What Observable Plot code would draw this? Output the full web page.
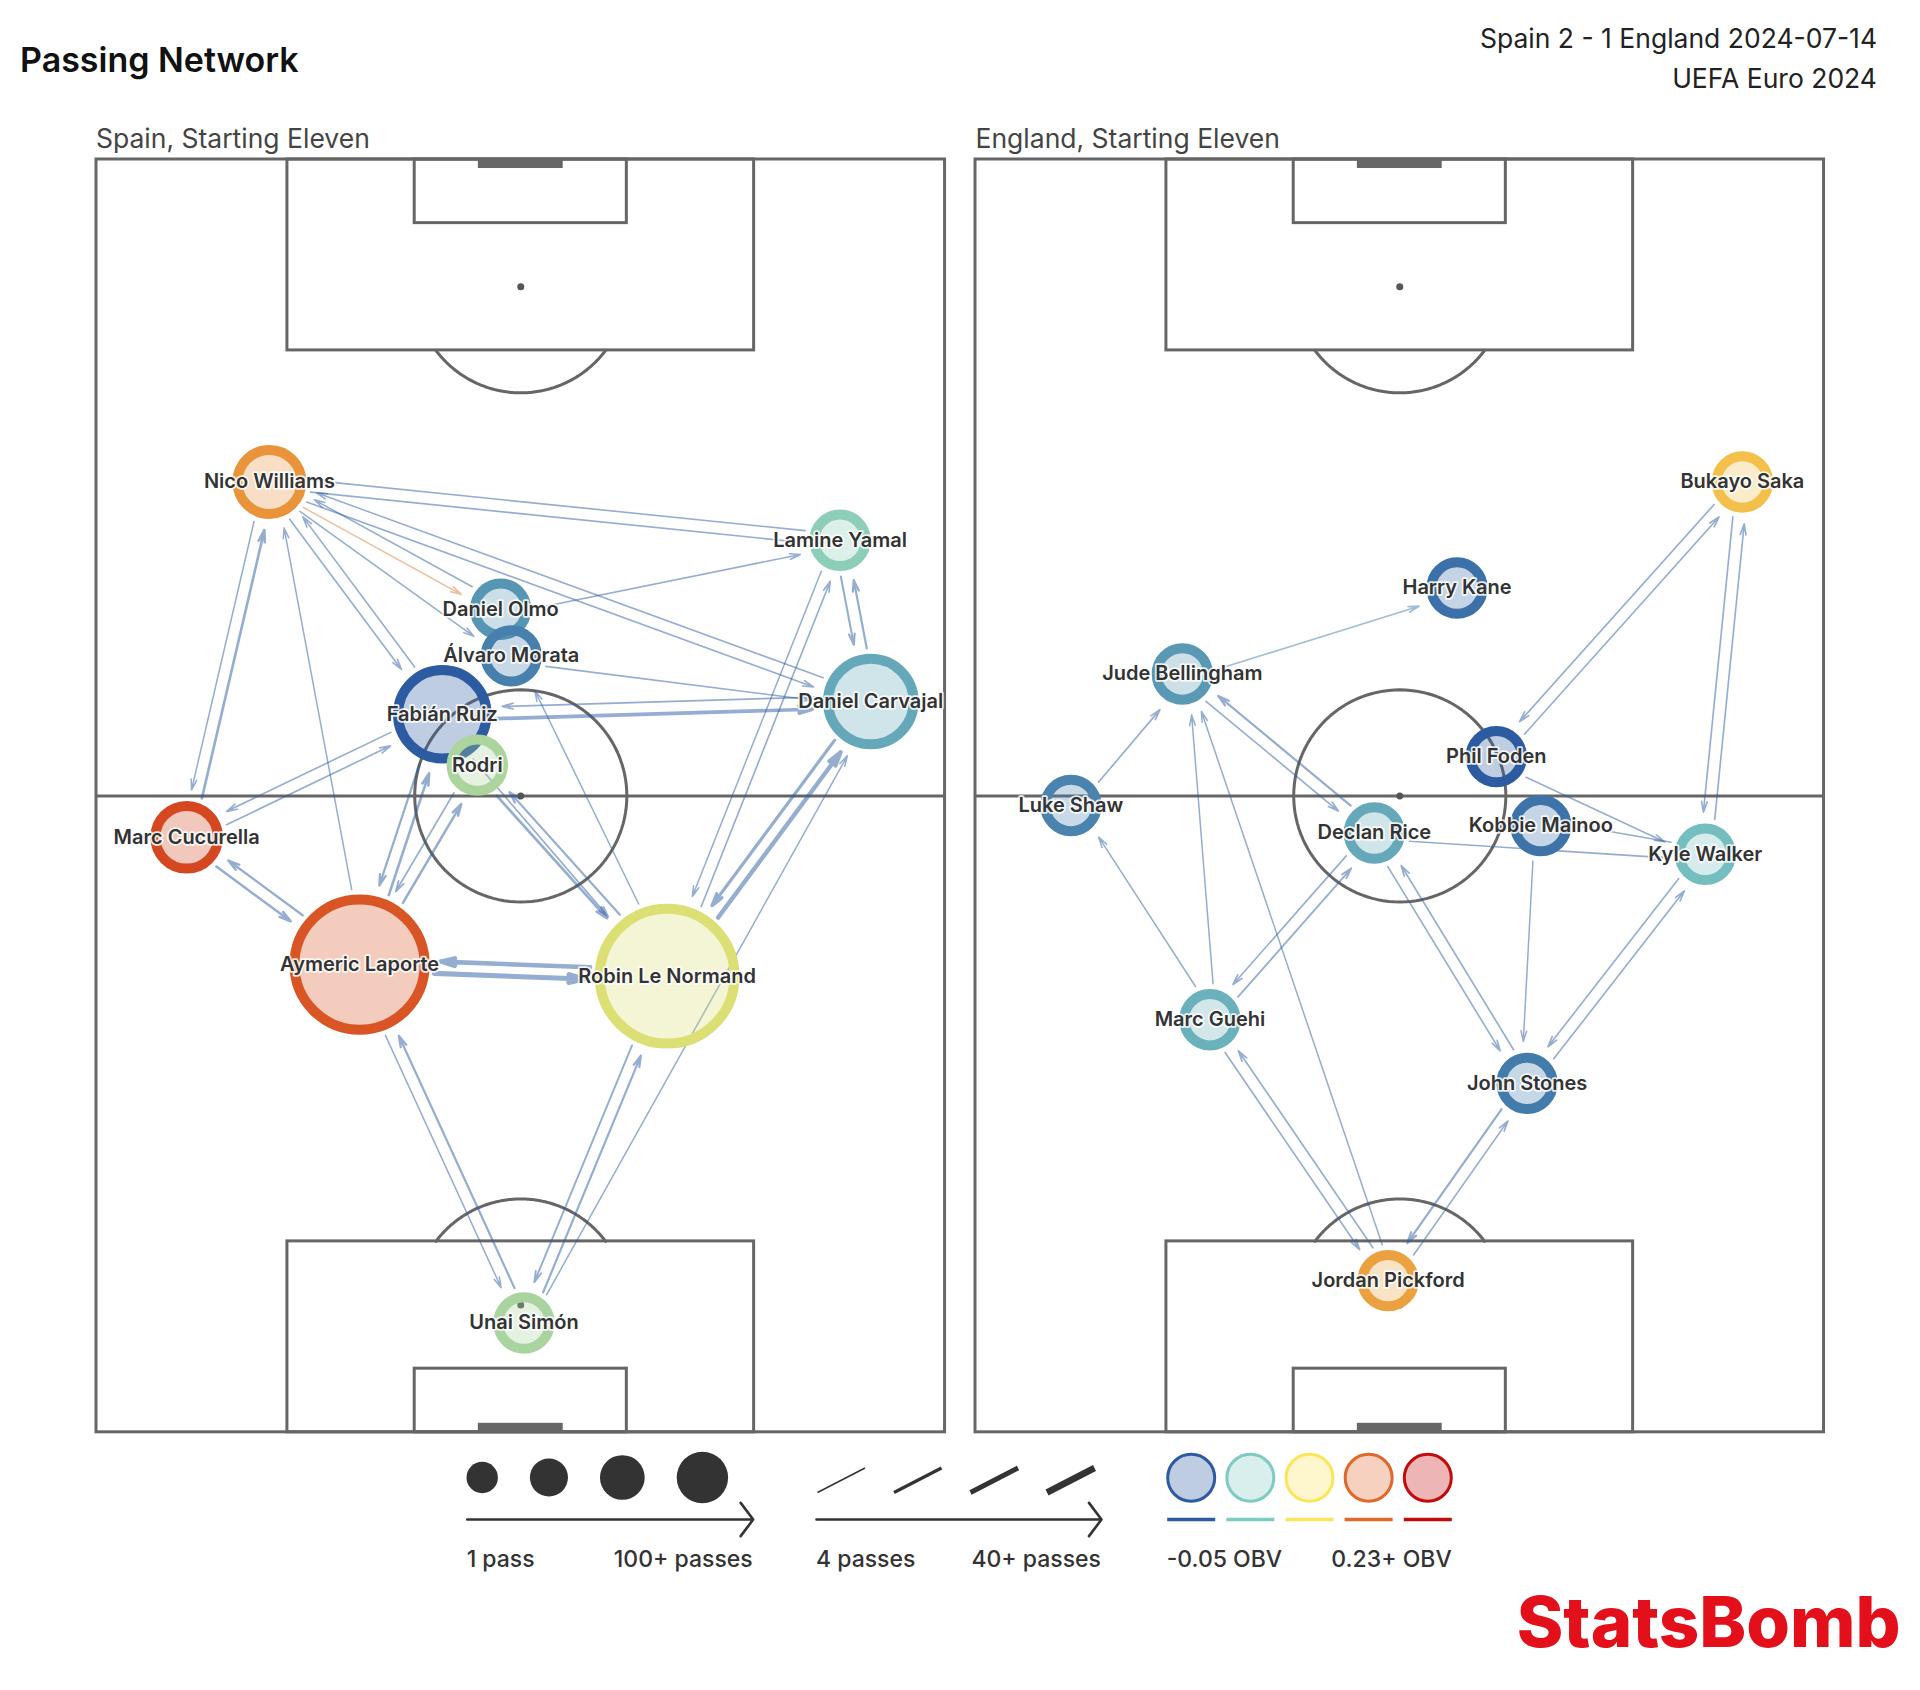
<!DOCTYPE html>
<html><head><meta charset="utf-8">
<script src="https://cdn.jsdelivr.net/npm/d3@7"></script>
<script src="https://cdn.jsdelivr.net/npm/@observablehq/plot@0.6"></script>
<style>
html,body{margin:0;padding:0;background:#fff;}
#page{position:relative;width:1920px;height:1690px;overflow:hidden;font-family:Inter,"Noto Sans",sans-serif;background:#fff;}
#page > svg, #page > div{position:absolute;}
</style></head>
<body><div id="page"></div>
<script>
// ================= DATA =================
const titleText = "Passing Network";
const matchText = "Spain 2 - 1 England 2024-07-14";
const compText = "UEFA Euro 2024";
const teamTitles = ["Spain, Starting Eleven", "England, Starting Eleven"];

// Spain nodes (across: 0-80 left→right, along: 0-120 own goal→attacking goal)
const spainPlayers = ["Nico Williams","Lamine Yamal","Daniel Olmo","Álvaro Morata","Fabián Ruiz","Rodri","Daniel Carvajal","Marc Cucurella","Aymeric Laporte","Robin Le Normand","Unai Simón"];
const spainAcross  = [16.3, 70.1, 38.1, 39.1, 32.6, 35.9, 73.0, 8.5, 24.8, 53.8, 40.3];
const spainAlong   = [89.6, 84.1, 77.6, 73.2, 67.7, 62.9, 68.9, 56.1, 44.1, 43.0, 10.3];
const spainPasses  = [25, 14, 13, 12, 47, 12, 44, 24, 100, 107, 15];
const spainObv     = [0.136, 0.028, -0.013, -0.027, -0.05, 0.045, -0.002, 0.185, 0.174, 0.072, 0.044];

// Spain edges
const spainFrom = ["Lamine Yamal","Nico Williams","Nico Williams","Daniel Carvajal","Nico Williams","Daniel Olmo","Daniel Olmo","Nico Williams","Fabián Ruiz","Nico Williams","Aymeric Laporte","Marc Cucurella","Nico Williams","Marc Cucurella","Fabián Ruiz","Marc Cucurella","Aymeric Laporte","Aymeric Laporte","Robin Le Normand","Fabián Ruiz","Aymeric Laporte","Aymeric Laporte","Rodri","Rodri","Robin Le Normand","Fabián Ruiz","Robin Le Normand","Robin Le Normand","Lamine Yamal","Robin Le Normand","Daniel Carvajal","Daniel Carvajal","Lamine Yamal","Fabián Ruiz","Daniel Carvajal","Álvaro Morata","Unai Simón","Aymeric Laporte","Unai Simón","Robin Le Normand","Unai Simón"];
const spainTo   = ["Nico Williams","Lamine Yamal","Daniel Carvajal","Nico Williams","Daniel Olmo","Nico Williams","Lamine Yamal","Fabián Ruiz","Nico Williams","Álvaro Morata","Nico Williams","Nico Williams","Marc Cucurella","Fabián Ruiz","Marc Cucurella","Aymeric Laporte","Marc Cucurella","Robin Le Normand","Aymeric Laporte","Aymeric Laporte","Fabián Ruiz","Rodri","Aymeric Laporte","Robin Le Normand","Rodri","Robin Le Normand","Álvaro Morata","Lamine Yamal","Robin Le Normand","Daniel Carvajal","Robin Le Normand","Lamine Yamal","Daniel Carvajal","Daniel Carvajal","Fabián Ruiz","Daniel Carvajal","Aymeric Laporte","Unai Simón","Robin Le Normand","Unai Simón","Daniel Carvajal"];
const spainEdgePasses = [5,5,5,4,4,4,5,5,5,4,4,12,4,5,5,11,10,30,26,9,12,11,6,12,9,5,4,5,4,24,16,9,8,20,6,5,9,4,9,7,4];
const spainEdgeObv    = [-0.05,-0.05,-0.05,-0.05,0.15,-0.05,-0.05,-0.05,-0.05,-0.05,-0.05,-0.05,-0.05,-0.05,-0.05,-0.05,-0.05,-0.05,-0.05,-0.05,-0.05,-0.05,-0.05,-0.05,-0.05,-0.05,-0.05,-0.05,-0.05,-0.05,-0.05,-0.05,-0.05,-0.05,-0.05,-0.05,-0.05,-0.05,-0.05,-0.05,-0.05];

// England nodes
const englandPlayers = ["Bukayo Saka","Harry Kane","Jude Bellingham","Phil Foden","Luke Shaw","Declan Rice","Kobbie Mainoo","Kyle Walker","Marc Guehi","John Stones","Jordan Pickford"];
const englandAcross  = [72.3, 45.4, 19.5, 49.1, 9.0, 37.6, 53.3, 68.8, 22.1, 52.0, 38.9];
const englandAlong   = [89.6, 79.6, 71.5, 63.7, 59.1, 56.5, 57.2, 54.5, 38.9, 32.9, 14.3];
const englandPasses  = [12, 8, 14, 11, 10, 15, 12, 13, 14, 16, 13];
const englandObv     = [0.111, -0.037, -0.011, -0.05, -0.025, -0.002, -0.035, 0.012, 0.004, -0.03, 0.1285];

// England edges
const englandFrom = ["Jude Bellingham","Bukayo Saka","Phil Foden","Bukayo Saka","Kyle Walker","Luke Shaw","Marc Guehi","Marc Guehi","Jude Bellingham","Declan Rice","Jordan Pickford","Declan Rice","Marc Guehi","Marc Guehi","Jordan Pickford","Declan Rice","John Stones","Declan Rice","Phil Foden","Kyle Walker","Kobbie Mainoo","Kyle Walker","John Stones","John Stones","Jordan Pickford"];
const englandTo   = ["Harry Kane","Phil Foden","Bukayo Saka","Kyle Walker","Bukayo Saka","Jude Bellingham","Luke Shaw","Jude Bellingham","Declan Rice","Jude Bellingham","Jude Bellingham","Marc Guehi","Declan Rice","Jordan Pickford","Marc Guehi","John Stones","Declan Rice","Kyle Walker","Kyle Walker","Kobbie Mainoo","John Stones","John Stones","Kyle Walker","Jordan Pickford","John Stones"];
const englandEdgePasses = [5,5,5,5,5,5,4,4,5,9,4,5,6,5,5,5,5,5,4,4,4,5,5,9,5];
const englandEdgeObv    = [-0.028,-0.05,-0.05,-0.05,-0.05,-0.05,-0.05,-0.05,-0.05,-0.05,-0.05,-0.05,-0.05,-0.05,-0.05,-0.05,-0.05,-0.05,-0.05,-0.05,-0.05,-0.05,-0.05,-0.05,-0.05];

// Legend
const sizeLegendPasses  = [1, 34, 67, 100];
const widthLegendPasses = [4, 16, 28, 40];
const obvLegendValues   = [-0.05, 0.02, 0.09, 0.16, 0.23];
const legendLabels = ["1 pass", "100+ passes", "4 passes", "40+ passes", "-0.05 OBV", "0.23+ OBV"];
const brandText = "StatsBomb";

// Colour scale (OBV)
const OBV_STOPS  = [-0.05, 0.02, 0.09, 0.16, 0.23];
const OBV_COLORS = ["#2c5ba2", "#7ecbc3", "#fbe659", "#e0682b", "#c20b0b"];

// Pitch markings (StatsBomb units)
const pitchRects = [
  {x1: 0, x2: 80, y1: 0, y2: 120},
  {x1: 18, x2: 62, y1: 0, y2: 18}, {x1: 18, x2: 62, y1: 102, y2: 120},
  {x1: 30, x2: 50, y1: 0, y2: 6}, {x1: 30, x2: 50, y1: 114, y2: 120}
];
const goalBars = [{x1: 36, x2: 44, y1: 0, y2: 0.85}, {x1: 36, x2: 44, y1: 119.15, y2: 120}];
const halfwayLine = [{x1: 0, x2: 80, y1: 60, y2: 60}];
const pitchSpots = [{x: 40, y: 12}, {x: 40, y: 60}, {x: 40, y: 108}];
const pitchArcs = [
  {id: "centre", cx: 40, cy: 60, r: 10, a0: 0, a1: 360},
  {id: "dBottom", cx: 40, cy: 12, r: 10, a0: 36.87, a1: 143.13},
  {id: "dTop", cx: 40, cy: 108, r: 10, a0: 216.87, a1: 323.13}
];

// ================= LAYOUT =================
const PX = 10.607;            // px per pitch unit
const MH = 14, MV = 30;       // plot margins
const pitchTop = 159.2;
const pitchLefts = [95.5, 974.7];
const RING = 10;
const R_DOMAIN = [16.4, 107], R_RANGE = [25.7, 67.4];
const rScale = d3.scaleSqrt().domain(R_DOMAIN).range(R_RANGE).clamp(true);
const wScale = d3.scaleLinear().domain([4, 40]).range([1.5, 6.5]).clamp(true);
const OFF = 6, GAP0 = 5, GAP1 = 11;
const FONT = "Inter, 'Noto Sans', sans-serif";
const colorScale = {type: "linear", domain: OBV_STOPS, range: OBV_COLORS, clamp: true};

const page = document.getElementById("page");

const arcPoints = pitchArcs.flatMap(a => d3.range(0, 121).map(k => {
  const t = (a.a0 + (a.a1 - a.a0) * k / 120) * Math.PI / 180;
  return {id: a.id, x: a.cx + a.r * Math.cos(t), y: a.cy + a.r * Math.sin(t)};
}));

function makePitch(players, across, along, passes, obv, eFrom, eTo, ePasses, eObv) {
  const nodes = players.map((name, i) => ({name, x: across[i], y: along[i], passes: passes[i], obv: obv[i]}));
  const byName = new Map(nodes.map(d => [d.name, d]));
  const outer = d => rScale(d.passes) + RING / 2;
  const edges = eFrom.map((f, i) => {
    const a = byName.get(f), b = byName.get(eTo[i]);
    const dx = b.x - a.x, dy = b.y - a.y, len = Math.hypot(dx, dy);
    const ux = dx / len, uy = dy / len;
    const px = uy * OFF / PX, py = -ux * OFF / PX;
    const s = (outer(a) + GAP0) / PX, e = (outer(b) + GAP1) / PX;
    return {x1: a.x + ux * s + px, y1: a.y + uy * s + py, x2: b.x - ux * e + px, y2: b.y - uy * e + py,
            w: wScale(ePasses[i]), obv: eObv[i]};
  });
  const lineStyle = {stroke: "#666", strokeWidth: 3};
  return Plot.plot({
    width: 80 * PX + 2 * MH, height: 120 * PX + 2 * MV,
    marginLeft: MH, marginRight: MH, marginTop: MV, marginBottom: MV,
    x: {domain: [0, 80], axis: null},
    y: {domain: [0, 120], axis: null},
    r: {type: "sqrt", domain: R_DOMAIN, range: R_RANGE, clamp: true},
    color: colorScale,
    style: {background: "transparent", overflow: "visible", fontFamily: FONT, maxWidth: "none"},
    marks: [
      Plot.rect(goalBars, {x1: "x1", x2: "x2", y1: "y1", y2: "y2", fill: "#666"}),
      Plot.rect(pitchRects, {x1: "x1", x2: "x2", y1: "y1", y2: "y2", fill: "none", ...lineStyle}),
      Plot.link(halfwayLine, {x1: "x1", x2: "x2", y1: "y1", y2: "y2", ...lineStyle}),
      Plot.line(arcPoints, {x: "x", y: "y", z: "id", ...lineStyle}),
      Plot.dot(pitchSpots, {x: "x", y: "y", r: 3.5, fill: "#555"}),
      ...edges.map(e => Plot.arrow([e], {
        x1: "x1", y1: "y1", x2: "x2", y2: "y2", stroke: "obv", strokeOpacity: 0.5,
        strokeWidth: e.w, headAngle: 30, headLength: 1.5 * (9 + 1.2 * e.w) / e.w
      })),
      Plot.dot(nodes, {x: "x", y: "y", r: "passes", fill: "obv", fillOpacity: 0.3, stroke: "obv", strokeWidth: RING}),
      Plot.text(nodes, {x: "x", y: "y", text: "name", fontSize: 20, fontWeight: 600, fill: "#333",
        stroke: "white", strokeWidth: 3.5, strokeOpacity: 0.85, fontFamily: FONT})
    ]
  });
}

const spain = makePitch(spainPlayers, spainAcross, spainAlong, spainPasses, spainObv, spainFrom, spainTo, spainEdgePasses, spainEdgeObv);
const england = makePitch(englandPlayers, englandAcross, englandAlong, englandPasses, englandObv, englandFrom, englandTo, englandEdgePasses, englandEdgeObv);
[spain, england].forEach((svg, i) => {
  svg.style.left = (pitchLefts[i] - MH) + "px";
  svg.style.top = (pitchTop - MV) + "px";
  page.appendChild(svg);
});

// ================= LEGEND (Plot) =================
const LEG_TOP = 1420;
const rLeg = d3.scaleLinear().domain([1, 100]).range([15.7, 25.7]);
let cx = 481.7;
const sizeItems = sizeLegendPasses.map((p, i) => {
  if (i > 0) cx += rLeg(sizeLegendPasses[i - 1]) + 32 + rLeg(p);
  return {x: cx, y: 57, passes: p};
});
const widthItems = widthLegendPasses.map((p, i) => ({x1: 817 + i * 76.5, y1: 72, x2: 864.5 + i * 76.5, y2: 47.5, w: wScale(p)}));
const obvItems = obvLegendValues.map((v, i) => ({x: 1190.7 + i * 59.15, y: 57.3, obv: v}));
const obvLines = obvItems.map(d => ({x1: d.x - 24, x2: d.x + 24, y1: 99, y2: 99, obv: d.obv}));
const legendArrows = [{x1: 466.7, x2: 752.7, y1: 99, y2: 99}, {x1: 816, x2: 1101, y1: 99, y2: 99}];

const legend = Plot.plot({
  width: 1920, height: 200, margin: 0,
  x: {domain: [0, 1920], range: [0, 1920], axis: null},
  y: {domain: [0, 200], range: [0, 200], axis: null},
  r: {type: "linear", domain: [1, 100], range: [15.7, 25.7]},
  color: colorScale,
  style: {background: "transparent", overflow: "visible", maxWidth: "none"},
  marks: [
    Plot.dot(sizeItems, {x: "x", y: "y", r: "passes", fill: "#333"}),
    Plot.arrow(legendArrows, {x1: "x1", x2: "x2", y1: "y1", y2: "y2", stroke: "#333", strokeWidth: 2.6, headAngle: 106, headLength: 12}),
    ...widthItems.map(d => Plot.link([d], {x1: "x1", x2: "x2", y1: "y1", y2: "y2", stroke: "#333", strokeWidth: d.w, strokeLinecap: "butt"})),
    Plot.dot(obvItems, {x: "x", y: "y", r: 23.5, fill: "obv", fillOpacity: 0.3, stroke: "obv", strokeWidth: 3}),
    Plot.link(obvLines, {x1: "x1", x2: "x2", y1: "y1", y2: "y2", stroke: "obv", strokeWidth: 3.5})
  ]
});
legend.style.left = "0px";
legend.style.top = LEG_TOP + "px";
page.appendChild(legend);

// ================= TEXT OVERLAY =================
const ov = d3.select(page).append("svg").attr("width", 1920).attr("height", 1690)
  .style("left", "0px").style("top", "0px").style("pointer-events", "none")
  .style("font-family", FONT);
function txt(x, y, s, size, weight, fill, anchor) {
  return ov.append("text").attr("x", x).attr("y", y).attr("font-size", size).attr("font-weight", weight)
    .attr("fill", fill).attr("text-anchor", anchor || "start").text(s);
}
txt(20, 72, titleText, 34, 600, "#111");
txt(1877, 48, matchText, 26.5, 400, "#222", "end");
txt(1877, 88, compText, 26.5, 400, "#222", "end");
txt(96, 148, teamTitles[0], 26.5, 400, "#444");
txt(975.5, 148, teamTitles[1], 26.5, 400, "#444");
const LB = 1567;
txt(466.7, LB, legendLabels[0], 23, 500, "#333");
txt(752.7, LB, legendLabels[1], 23, 500, "#333", "end");
txt(816, LB, legendLabels[2], 23, 500, "#333");
txt(1101, LB, legendLabels[3], 23, 500, "#333", "end");
txt(1166.7, LB, legendLabels[4], 23, 500, "#333");
txt(1451.7, LB, legendLabels[5], 23, 500, "#333", "end");
txt(1516.7, 1647, brandText, 70, 800, "#e3101b").attr("textLength", 384).attr("lengthAdjust", "spacingAndGlyphs");
</script>
</body></html>
